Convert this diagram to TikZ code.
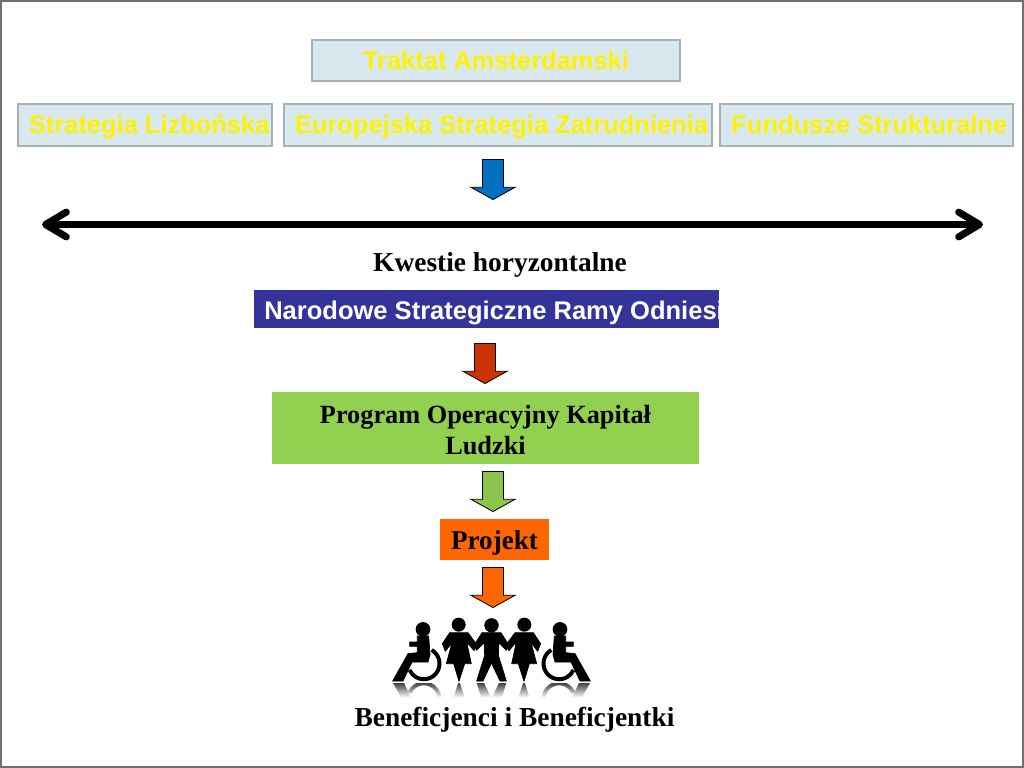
\documentclass[tikz,border=0pt]{standalone}
\usepackage{fontspec}
\setmainfont{Liberation Serif}
\setsansfont{Liberation Sans}
\usetikzlibrary{arrows.meta,shapes.arrows,fadings}

\definecolor{boxfill}{HTML}{D9E8EE}
\definecolor{boxline}{HTML}{A5B1B5}
\definecolor{navybox}{HTML}{333399}
\definecolor{greenbox}{HTML}{92D050}
\definecolor{greenarrow}{HTML}{8CC44E}
\definecolor{orangebox}{HTML}{FF6600}
\definecolor{bluearrow}{HTML}{0070C0}
\definecolor{redarrow}{HTML}{CC3300}
\definecolor{framegray}{HTML}{707070}

\tikzstyle{topbox}=[rectangle,draw=boxline,fill=boxfill,line width=1pt,inner sep=0pt,text=yellow,text height=15.8pt,text depth=3.6pt,font=\sffamily\bfseries\fontsize{18.1}{20}\selectfont]
\tikzstyle{solid box}=[rectangle,inner sep=0pt,align=center,font=\bfseries\fontsize{18.7}{22}\selectfont]
\tikzstyle{caption}=[inner sep=0pt,font=\bfseries\fontsize{19.5}{22}\selectfont]
\tikzstyle{downarrow}=[single arrow,shape border rotate=270,draw=black,line width=.6pt,anchor=tip,inner sep=.2525cm,minimum height=1cm,single arrow head extend=.29cm,single arrow tip angle=122]
\tikzstyle{barb}=[{Straight Barb[length=.52cm,width=.62cm,round,line width=5pt]}-{Straight Barb[length=.52cm,width=.62cm,round,line width=5pt]}]
\tikzstyle{figure part}=[fill=black,draw=black,line width=.5pt,line join=round]

% one wheelchair user, one woman, half of the man; drawn in 3x pixels
\newcommand{\peopleside}{
	\fill (105,52) circle (22);
	\path[figure part] (88,72) -- (122,72) -- (126,128) -- (120,150) -- (72,150) -- (45,207) -- (14,207) -- (60,125) -- (88,122) -- (88,103) -- (65,103) -- (65,90) -- (88,90) -- cycle;
	\draw[line width=2.8pt] (131,114) arc (-60:156:47);
	\fill (212,38) circle (21);
	\path[figure part] (185,62) -- (240,62) -- (268,100) -- (258,116) -- (236,90) -- (250,155) -- (230,155) -- (213,208) -- (197,155) -- (175,155) -- (192,92) -- (172,118) -- (163,95) -- cycle;
	\fill (311,40) circle (21);
	\path[figure part] (312,62) -- (282,62) -- (258,100) -- (266,115) -- (288,92) -- (290,130) -- (266,207) -- (285,207) -- (312,150) -- cycle;
}

\begin{document}
\begin{tikzpicture}[x=.025cm,y=-.025cm]
	\useasboundingbox (0,0) rectangle (1024,768);
	\node [rectangle,draw=framegray,line width=1pt,minimum width=25.55cm,minimum height=19.15cm,inner sep=0pt] (frame) at (512,384) {};

	\node [topbox,minimum width=9.2cm,minimum height=1.03cm] (traktat) at (496,60.5) {Traktat Amsterdamski};
	\node [topbox,minimum width=6.35cm,minimum height=1.05cm] (lizbona) at (145,125) {\hspace*{6pt}Strategia Lizbońska};
	\node [topbox,minimum width=10.7cm,minimum height=1.05cm] (esz) at (498,125) {\hspace*{5pt}Europejska Strategia Zatrudnienia};
	\node [topbox,minimum width=7.33cm,minimum height=1.05cm] (fundusze) at (866.5,125) {\hspace*{4pt}Fundusze Strukturalne};

	\node [downarrow,fill=bluearrow] (arrowA) at (493,200) {};

	\coordinate (axisL) at (42,224.5);
	\coordinate (axisR) at (983,224.5);
	\draw [line width=4.4pt,barb] (axisL) -- (axisR);

	\node [caption] (horyzont) at (500,265) {Kwestie horyzontalne};

	\begin{scope}
		\clip (254,290) rectangle (719,328);
		\node [solid box,fill=navybox,minimum width=11.625cm,minimum height=.95cm] (nsro) at (486.5,309) {};
		\node [anchor=west,inner sep=0pt,text=white,font=\sffamily\bfseries\fontsize{18.15}{20}\selectfont] (nsrotext) at (264,312.5) {Narodowe Strategiczne Ramy Odniesi};
	\end{scope}

	\node [downarrow,fill=redarrow] (arrowB) at (485,384) {};
	\node [solid box,fill=greenbox,minimum width=10.675cm,minimum height=1.8cm] (pokl) at (485.5,428) {\rule{0pt}{15.8pt}Program Operacyjny Kapitał\\[-.5pt]Ludzki};
	\node [downarrow,fill=greenarrow] (arrowC) at (493,512) {};
	\node [solid box,fill=orangebox,minimum width=2.725cm,minimum height=1.025cm,font=\bfseries\fontsize{19.3}{22}\selectfont] (projekt) at (494.5,539.5) {\rule{0pt}{18.8pt}Projekt};
	\node [downarrow,fill=orangebox] (arrowD) at (493,608) {};

	% reflection first, then the figures
	\begin{scope}
		\clip (385,683) rectangle (600,697);
		\begin{scope}[shift={(388,750.6)},xscale=1/3,yscale=-1/3]
			\peopleside
		\end{scope}
		\begin{scope}[shift={(595,750.6)},xscale=-1/3,yscale=-1/3]
			\peopleside
		\end{scope}
	\end{scope}
	\fill [white,path fading=north] (385,678) rectangle (600,697.5);
	\begin{scope}[shift={(388,612)},scale=1/3]
		\peopleside
	\end{scope}
	\begin{scope}[shift={(595,612)},xscale=-1/3,yscale=1/3]
		\peopleside
	\end{scope}

	\node [caption] (benef) at (514.5,720) {Beneficjenci i Beneficjentki};
\end{tikzpicture}
\end{document}
